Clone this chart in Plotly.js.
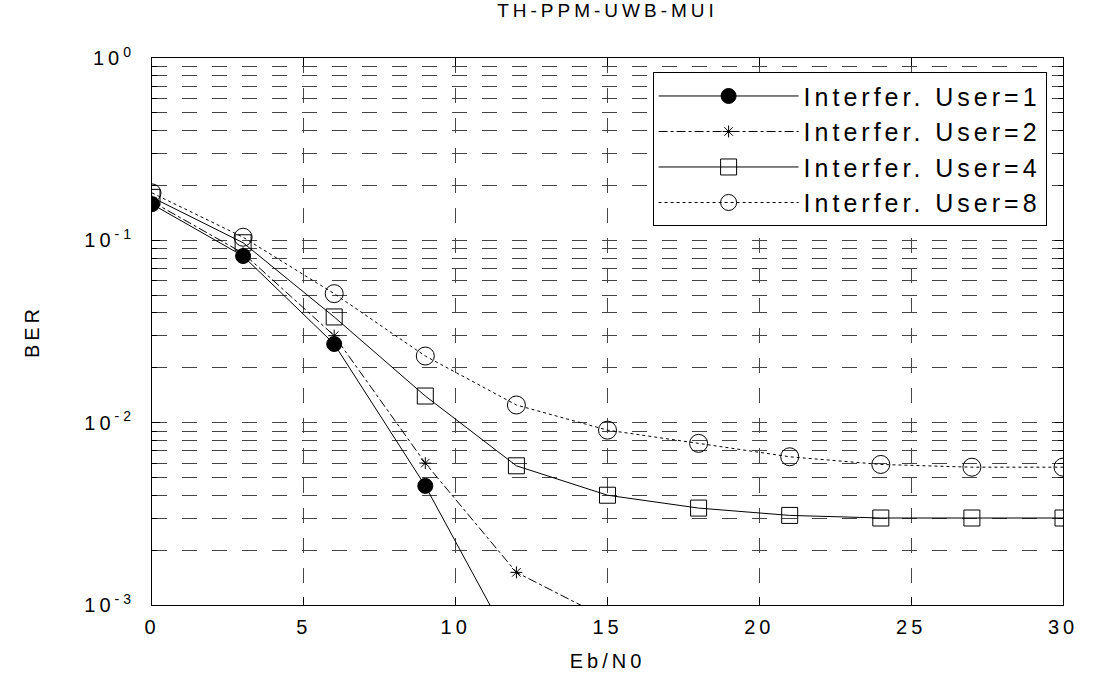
<!DOCTYPE html>
<html>
<head>
<meta charset="utf-8">
<script src="https://cdn.plot.ly/plotly-3.0.1.min.js"></script>
<style>
  html, body { margin: 0; padding: 0; background: #fff; }
  #chart { width: 1099px; height: 673px; }
  svg text { letter-spacing: 4px; }
</style>
</head>
<body>
<div id="chart"></div>
<script>
// Data
const ebn0 = [0, 3, 6, 9, 12, 15, 18, 21, 24, 27, 30];
const berUser1 = [0.158, 0.082, 0.027, 0.0045, 0.00054];
const berUser2 = [0.163, 0.085, 0.030, 0.0060, 0.00151, 0.00084];
const berUser4 = [0.172, 0.097, 0.038, 0.0140, 0.0058, 0.0040, 0.0034, 0.0031, 0.0030, 0.0030, 0.0030];
const berUser8 = [0.182, 0.104, 0.051, 0.0232, 0.0125, 0.0091, 0.0077, 0.0065, 0.0059, 0.0057, 0.0057];
const seriesNames = ['Interfer. User=1', 'Interfer. User=2', 'Interfer. User=4', 'Interfer. User=8'];
const yTickVals = [1, 0.1, 0.01, 0.001];
const yTickText = ['10<sup>0</sup>', '10<sup>-1</sup>', '10<sup>-2</sup>', '10<sup>-3</sup>'];

// minor log grid values (2..9 per decade)
const minorVals = [];
for (let d = -3; d < 0; d++) {
  for (let k = 2; k <= 9; k++) minorVals.push(k * Math.pow(10, d));
}

const FONT = 'Liberation Sans, Arial, sans-serif';
const lineCol = '#000';

const traces = [
  {
    x: ebn0.slice(0, berUser1.length), y: berUser1, name: seriesNames[0],
    mode: 'lines+markers',
    line: {color: lineCol, width: 1, dash: 'solid'},
    marker: {symbol: 'circle', size: 15, color: '#000', line: {color: '#000', width: 1}}
  },
  {
    x: ebn0.slice(0, berUser2.length), y: berUser2, name: seriesNames[1],
    mode: 'lines+markers',
    line: {color: lineCol, width: 1, dash: 'dashdot'},
    marker: {symbol: 'asterisk-open', size: 10, color: '#000', line: {color: '#000', width: 1}}
  },
  {
    x: ebn0, y: berUser4, name: seriesNames[2],
    mode: 'lines+markers',
    line: {color: lineCol, width: 1, dash: 'solid'},
    marker: {symbol: 'square-open', size: 16, color: '#000', line: {color: '#000', width: 1}}
  },
  {
    x: ebn0, y: berUser8, name: seriesNames[3],
    mode: 'lines+markers',
    line: {color: lineCol, width: 1, dash: 'dot'},
    marker: {symbol: 'circle-open', size: 18, color: '#000', line: {color: '#000', width: 1}}
  }
];

const gridDash = '15px,15px';
const gridCol = '#444';

const layout = {
  width: 1099, height: 673,
  paper_bgcolor: '#fff', plot_bgcolor: '#fff',
  margin: {l: 152, r: 36, t: 58, b: 68, pad: 0},
  font: {family: FONT, size: 20, color: '#000'},
  title: {
    text: 'TH-PPM-UWB-MUI',
    font: {family: FONT, size: 19, color: '#000'},
    x: 0.5, xref: 'paper', xanchor: 'center',
    y: 0.995, yref: 'container', yanchor: 'top'
  },
  showlegend: true,
  legend: {
    x: 0.982, xanchor: 'right', y: 0.974, yanchor: 'top',
    bgcolor: '#fff', bordercolor: '#000', borderwidth: 1,
    font: {family: FONT, size: 25, color: '#000'},
    itemwidth: 140, tracegroupgap: 0
  },
  xaxis: {
    range: [0, 30], dtick: 5, tick0: 0,
    showline: true, linecolor: '#000', linewidth: 1, mirror: 'ticks',
    ticks: 'inside', ticklen: 8, tickcolor: '#000',
    showgrid: true, gridcolor: gridCol, gridwidth: 1, griddash: gridDash,
    zeroline: false,
    tickfont: {family: FONT, size: 20, color: '#000'},
    ticklabelstandoff: 4,
    title: {text: 'Eb/N0', font: {family: FONT, size: 20, color: '#000'}, standoff: 16}
  },
  yaxis: {
    type: 'log', range: [-3, 0],
    tickmode: 'array', tickvals: yTickVals, ticktext: yTickText,
    showline: true, linecolor: '#000', linewidth: 1, mirror: 'ticks',
    ticks: 'inside', ticklen: 8, tickcolor: '#000',
    showgrid: true, gridcolor: gridCol, gridwidth: 1, griddash: gridDash,
    zeroline: false,
    ticklabelstandoff: 12,
    tickfont: {family: FONT, size: 20, color: '#000'},
    minor: {
      tickmode: 'array', tickvals: minorVals,
      ticks: 'inside', ticklen: 5, tickcolor: '#000',
      showgrid: true, gridcolor: gridCol, gridwidth: 1, griddash: gridDash
    },
    title: {text: 'BER', font: {family: FONT, size: 20, color: '#000'}, standoff: 39}
  }
};

Plotly.newPlot('chart', traces, layout, {displayModeBar: false, staticPlot: true});
</script>
</body>
</html>
